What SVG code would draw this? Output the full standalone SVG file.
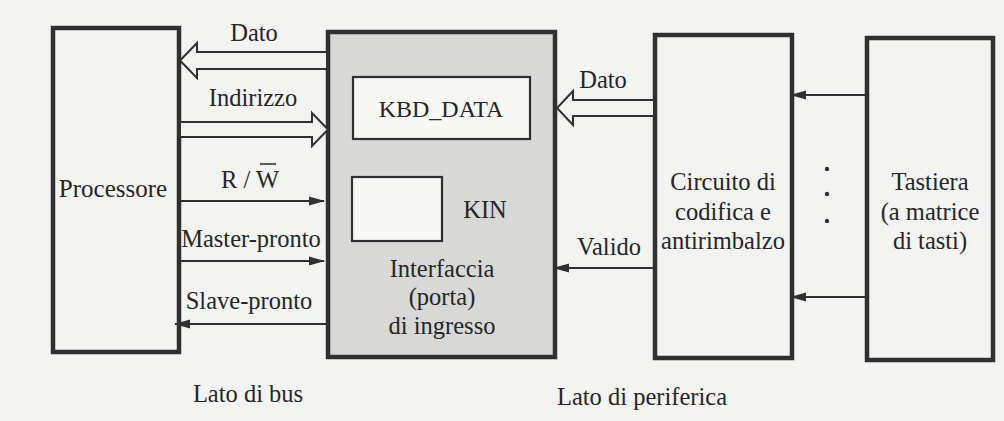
<svg xmlns="http://www.w3.org/2000/svg" width="1004" height="421" viewBox="0 0 1004 421">
<style>
.t{font-family:"Liberation Serif","Times New Roman",serif;font-size:24.5px;fill:#262626;text-anchor:middle}
.box{fill:#f3f3f1;stroke:#303030;stroke-width:4.5}
.gray{fill:#d8d8d6;stroke:#303030;stroke-width:4.5}
.inner{fill:#f7f7f5;stroke:#303030;stroke-width:2.2}
.ln{stroke:#303030;stroke-width:2;fill:none}
.bus{stroke:#303030;stroke-width:2;fill:#f3f3f1;stroke-linejoin:miter}
</style>
<defs>
<marker id="ah" markerWidth="16" markerHeight="10" refX="15" refY="5" orient="auto" markerUnits="userSpaceOnUse">
<path d="M0,0.5 L16,5 L0,9.5 Z" fill="#303030"/>
</marker>
</defs>
<rect width="1004" height="421" fill="#f3f3f1"/>
<g id="processore">
<rect class="box" x="53" y="28" width="126" height="324"/>
<text class="t" x="113" y="197" style="font-size:25px">Processore</text>
</g>
<g id="interfaccia">
<rect class="gray" x="328" y="32" width="227" height="325"/>
<text class="t" x="442" y="277">Interfaccia</text>
<text class="t" x="442" y="305">(porta)</text>
<text class="t" x="442" y="334">di ingresso</text>
</g>
<g id="kbd_data">
<rect class="inner" x="353" y="77" width="177" height="62"/>
<text class="t" x="441" y="117" style="font-size:24px">KBD_DATA</text>
</g>
<g id="kin">
<rect class="inner" x="352" y="177" width="90" height="64"/>
<text class="t" x="485" y="218">KIN</text>
</g>
<g id="circuito">
<rect class="box" x="655" y="35" width="137" height="323"/>
<text class="t" x="723" y="190">Circuito di</text>
<text class="t" x="723" y="220">codifica e</text>
<text class="t" x="723" y="249">antirimbalzo</text>
</g>
<g id="tastiera">
<rect class="box" x="867" y="38" width="126" height="322"/>
<text class="t" x="930" y="190">Tastiera</text>
<text class="t" x="930" y="220">(a matrice</text>
<text class="t" x="930" y="249">di tasti)</text>
</g>
<g id="connectors">
<path class="bus" d="M326,52 L197,52 L197,43 L180,60.5 L197,78 L197,69 L326,69"/>
<path class="bus" d="M181,122 L312,122 L312,113 L328,129.5 L312,146 L312,137 L181,137"/>
<path class="bus" d="M653,100 L573,100 L573,91 L557,108 L573,125 L573,116 L653,116"/>
<line class="ln" x1="179" y1="201" x2="324" y2="201" marker-end="url(#ah)"/>
<line class="ln" x1="179" y1="261" x2="324" y2="261" marker-end="url(#ah)"/>
<line class="ln" x1="328" y1="324" x2="175" y2="324" marker-end="url(#ah)"/>
<line class="ln" x1="655" y1="268" x2="554" y2="268" marker-end="url(#ah)"/>
<line class="ln" x1="867" y1="95" x2="791" y2="95" marker-end="url(#ah)"/>
<line class="ln" x1="867" y1="297" x2="791" y2="297" marker-end="url(#ah)"/>
<circle cx="827" cy="169" r="2.2" fill="#303030"/>
<circle cx="827" cy="194" r="2.2" fill="#303030"/>
<circle cx="827" cy="221" r="2.2" fill="#303030"/>
<text class="t" x="254" y="41">Dato</text>
<text class="t" x="253" y="106">Indirizzo</text>
<text class="t" x="250" y="188">R / W</text>
<line x1="260" y1="164" x2="276" y2="164" stroke="#303030" stroke-width="1.6"/>
<text class="t" x="251" y="247">Master-pronto</text>
<text class="t" x="249" y="309">Slave-pronto</text>
<text class="t" x="603" y="88">Dato</text>
<text class="t" x="609" y="255">Valido</text>
</g>
<text class="t" x="248" y="402">Lato di bus</text>
<text class="t" x="642" y="405">Lato di periferica</text>
</svg>
